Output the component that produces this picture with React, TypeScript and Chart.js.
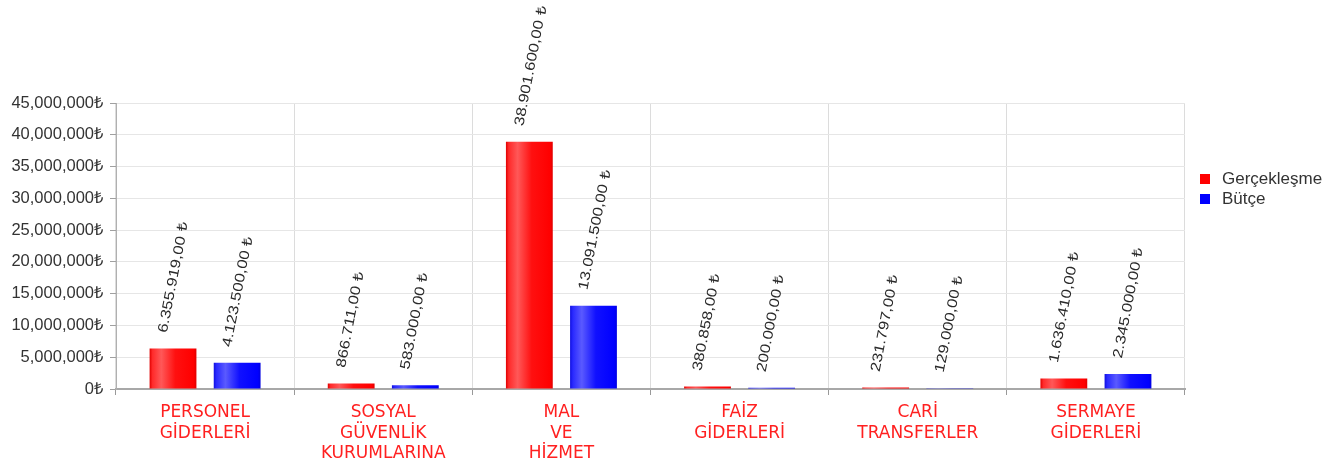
import React, { useEffect, useRef } from "react";
import { Chart, registerables } from "chart.js";

Chart.register(...registerables);

const categories: string[][] = [
  ["PERSONEL", "GİDERLERİ"],
  ["SOSYAL", "GÜVENLİK", "KURUMLARINA"],
  ["MAL", "VE", "HİZMET"],
  ["FAİZ", "GİDERLERİ"],
  ["CARİ", "TRANSFERLER"],
  ["SERMAYE", "GİDERLERİ"],
];
const gerceklesme: number[] = [6355919, 866711, 38901600, 380858, 231797, 1636410];
const butce: number[] = [4123500, 583000, 13091500, 200000, 129000, 2345000];
const seriesNames: string[] = ["Gerçekleşme", "Bütçe"];
const yMax = 45000000;
const yStep = 5000000;

const CAT_PCT = 0.72;
const BAR_PCT = 0.73;

function fmtTR(v: number): string {
  const parts = v.toFixed(2).split(".");
  const intPart = parts[0].replace(/\B(?=(\d{3})+(?!\d))/g, ".");
  return intPart + "," + parts[1] + " ₺";
}
function fmtTick(v: number): string {
  return String(Math.round(v)).replace(/\B(?=(\d{3})+(?!\d))/g, ",") + "₺";
}

function makeGradient(c: any, stops: [number, string][], fallback: string) {
  const chart = c.chart;
  const xs = chart.scales && chart.scales.x;
  if (!xs || !chart.chartArea || c.dataIndex === undefined) return fallback;
  const n = categories.length;
  const catW = xs.width / n;
  const slot = (catW * CAT_PCT) / 2;
  const center = xs.getPixelForValue(c.dataIndex) + (c.datasetIndex - 0.5) * slot;
  const w = slot * BAR_PCT;
  const left = center - w / 2;
  if (!isFinite(left)) return fallback;
  const g = chart.ctx.createLinearGradient(left, 0, left + w, 0);
  stops.forEach(([o, col]) => g.addColorStop(o, col));
  return g;
}

const redStops: [number, string][] = [
  [0, "#e00000"],
  [0.06, "#ff2a2a"],
  [0.25, "#ff5858"],
  [0.55, "#ff1010"],
  [0.94, "#ff0000"],
  [1, "#e00000"],
];
const blueStops: [number, string][] = [
  [0, "#1010e0"],
  [0.06, "#2a2aff"],
  [0.25, "#5a5aff"],
  [0.55, "#1010ff"],
  [0.94, "#0000ff"],
  [1, "#0000e0"],
];

const labelPlugin = {
  id: "valueLabels",
  afterDatasetsDraw(chart: any) {
    const ctx = chart.ctx;
    ctx.save();
    ctx.font = "14px 'Liberation Sans', Arial, sans-serif";
    ctx.fillStyle = "#2a2a2a";
    ctx.textAlign = "left";
    ctx.textBaseline = "middle";
    chart.data.datasets.forEach((ds: any, di: number) => {
      const meta = chart.getDatasetMeta(di);
      meta.data.forEach((bar: any, i: number) => {
        const v = ds.data[i];
        ctx.save();
        ctx.translate(bar.x - 10, bar.y - 16);
        ctx.rotate((-79 * Math.PI) / 180);
        ctx.scale(1.2, 1);
        ctx.fillText(fmtTR(v), 0, 0);
        ctx.restore();
      });
    });
    ctx.restore();
  },
};

const legendPlugin = {
  id: "sideLegend",
  afterDraw(chart: any) {
    const ctx = chart.ctx;
    const colors = ["#ff0000", "#0000ff"];
    ctx.save();
    ctx.font = "17px 'Liberation Sans', Arial, sans-serif";
    ctx.textBaseline = "middle";
    ctx.textAlign = "left";
    seriesNames.forEach((name, i) => {
      const y = 179 + i * 20;
      ctx.fillStyle = colors[i];
      ctx.fillRect(1200, y - 5, 10, 10);
      ctx.fillStyle = "#333333";
      ctx.fillText(name, 1222, y);
    });
    ctx.restore();
  },
};

export default function App() {
  const ref = useRef<HTMLCanvasElement | null>(null);
  useEffect(() => {
    if (!ref.current) return;
    const chart = new Chart(ref.current, {
      type: "bar",
      data: {
        labels: categories,
        datasets: [
          {
            label: seriesNames[0],
            data: gerceklesme,
            backgroundColor: (c: any) => makeGradient(c, redStops, "#ff0000"),
            categoryPercentage: CAT_PCT,
            barPercentage: BAR_PCT,
          },
          {
            label: seriesNames[1],
            data: butce,
            backgroundColor: (c: any) => makeGradient(c, blueStops, "#0000ff"),
            categoryPercentage: CAT_PCT,
            barPercentage: BAR_PCT,
          },
        ],
      },
      options: {
        responsive: false,
        animation: false,
        layout: { padding: { top: 103, right: 153, left: 0, bottom: 0 } },
        plugins: {
          legend: { display: false },
          tooltip: { enabled: false },
        },
        scales: {
          x: {
            grid: {
              offset: true,
              color: "#dcdcdc",
              tickColor: "#999999",
              tickLength: 6,
              drawOnChartArea: true,
            },
            border: { color: "#a8a8a8", width: 2 },
            ticks: {
              color: "#ff2020",
              font: { family: "'DejaVu Sans', sans-serif", size: 17, lineHeight: 1.18 },
              padding: 8,
              maxRotation: 0,
              autoSkip: false,
            },
            afterFit: (s: any) => {
              s.height = 83;
            },
          },
          y: {
            min: 0,
            max: yMax,
            grid: { color: "#e6e6e6", tickColor: "#a0a0a0", tickLength: 6 },
            border: { color: "#b0b0b0", width: 1 },
            ticks: {
              stepSize: yStep,
              color: "#333333",
              font: { family: "'Liberation Sans', Arial, sans-serif", size: 16.5 },
              padding: 7,
              callback: (v: any) => fmtTick(Number(v)),
            },
            afterFit: (s: any) => {
              s.width = 116;
            },
          },
        },
      },
      plugins: [labelPlugin, legendPlugin],
    });
    return () => chart.destroy();
  }, []);
  return (
    <div style={{ position: "absolute", left: 0, top: 0, width: 1338, height: 472, background: "#fff" }}>
      <canvas ref={ref} width={1338} height={472} />
    </div>
  );
}
